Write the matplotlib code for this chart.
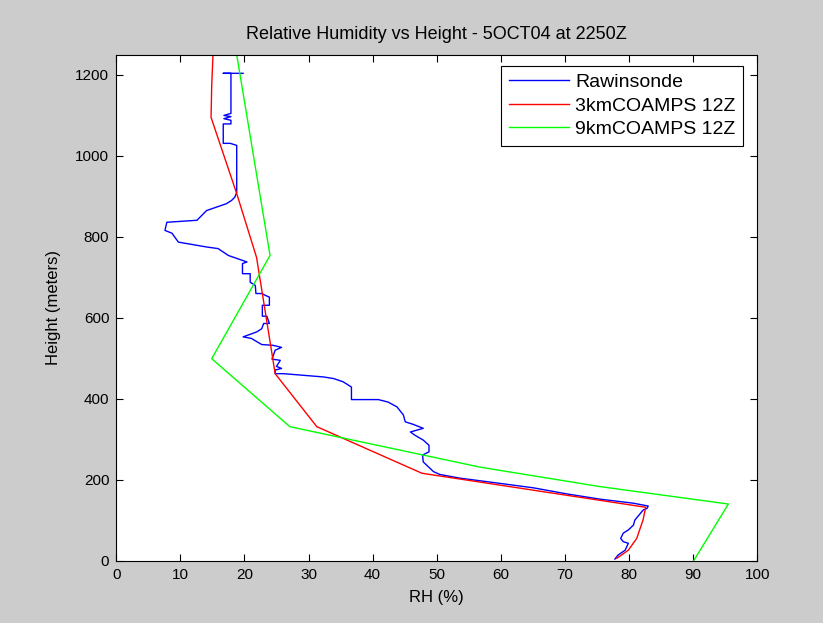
import matplotlib
matplotlib.use('Agg')
import matplotlib.pyplot as plt

# ==================== Data ====================
# Rawinsonde profile, surface upwards
raob_rh = [77.8, 78.3, 79.4, 79.9, 79.1, 78.7, 79.1, 79.9, 80.7, 80.9, 82.2, 82.8, 83.0,
           80.7, 75.5, 70.3, 65.1, 59.4, 53.6, 50.5, 49.5, 48.7, 47.9, 47.8, 48.8,
           48.8, 47.9, 46.6, 45.9, 47.9, 46.3, 45.1, 44.8, 43.8, 42.4, 40.9, 36.7,
           36.7, 35.4, 33.9, 32.3, 29.2, 26.1, 24.8, 24.8, 25.8, 25.0, 25.6, 24.3,
           24.8, 25.8, 24.5, 22.7, 21.1, 19.8, 21.9, 22.7, 23.0, 23.9, 23.5, 22.8,
           22.8, 23.9, 23.9, 23.2, 22.7, 21.8, 21.7, 20.9, 20.9, 19.7, 19.7, 20.4,
           17.5, 15.9, 14.1, 9.7, 8.7, 7.6, 7.9, 12.6, 14.1, 17.2, 18.0, 18.5,
           18.8, 18.8, 17.8, 16.7, 16.7, 17.9, 17.9, 16.8, 17.9, 16.8, 17.9, 17.9,
           16.7, 19.8]
raob_h = [4, 14, 26, 43, 47, 55, 68, 76, 88, 100, 125, 129, 135,
          142, 152, 165, 180, 192, 204, 213, 220, 232, 244, 261, 269,
          285, 298, 310, 318, 327, 337, 343, 360, 380, 392, 398, 398,
          429, 442, 450, 454, 458, 462, 462, 471, 475, 480, 495, 498,
          520, 527, 532, 534, 549, 553, 565, 573, 586, 586, 604, 604,
          631, 631, 651, 656, 660, 660, 680, 688, 709, 709, 734, 738,
          754, 771, 775, 787, 809, 816, 836, 841, 865, 882, 890, 898,
          910, 1026, 1031, 1031, 1079, 1079, 1088, 1092, 1097, 1100, 1105, 1204,
          1204, 1204]

# 3 km COAMPS 12Z
c3_rh = [78.1, 79.9, 81.2, 82.2, 82.6, 47.7, 31.3, 24.8, 21.9, 18.8, 14.8, 14.9, 15.1]
c3_h = [6, 26, 55, 101, 132, 216, 331, 462, 749, 907, 1095, 1174, 1250]

# 9 km COAMPS 12Z
c9_rh = [90.1, 95.5, 75.5, 56.8, 27.1, 14.9, 24.0, 18.8]
c9_h = [0, 140, 183, 231, 331, 499, 754, 1250]

series = [(raob_rh, raob_h, '#0000ff', 'Rawinsonde'),
          (c3_rh, c3_h, '#ff0000', '3kmCOAMPS 12Z'),
          (c9_rh, c9_h, '#00ff00', '9kmCOAMPS 12Z')]

# ==================== Plot ====================
plt.rcParams['font.family'] = ['Liberation Sans', 'DejaVu Sans']

fig = plt.figure(figsize=(8.23, 6.23), dpi=100)
fig.patch.set_facecolor('#cccccc')
ax = fig.add_axes([116.2 / 823, 62.3 / 623, 641 / 823, 506 / 623])
ax.set_facecolor('white')

for x, y, c, lab in series:
    ax.plot(x, y, color=c, lw=1.0, label=lab)

ax.set_xlim(0, 100)
ax.set_ylim(0, 1250)
ax.set_xticks(range(0, 101, 10))
ax.set_yticks(range(0, 1201, 200))
ax.tick_params(direction='in', top=True, right=True, length=5, width=0.8,
               labelsize=11, pad=5)
for s in ax.spines.values():
    s.set_linewidth(0.8)

ax.set_title('Relative Humidity vs Height - 5OCT04 at 2250Z', fontsize=13, pad=11)
ax.set_xlabel('RH (%)', fontsize=12, labelpad=6)
ax.set_ylabel('Height (meters)', fontsize=12, labelpad=10)

leg = ax.legend(loc='upper right', bbox_to_anchor=(0.978, 0.978), borderaxespad=0,
                fontsize=14, fancybox=False, framealpha=1, edgecolor='black',
                handlelength=3.1, handletextpad=0.3, borderpad=0.4, labelspacing=0.3)
leg.get_frame().set_linewidth(0.8)

fig.savefig('out.png', dpi=100, facecolor=fig.get_facecolor())
